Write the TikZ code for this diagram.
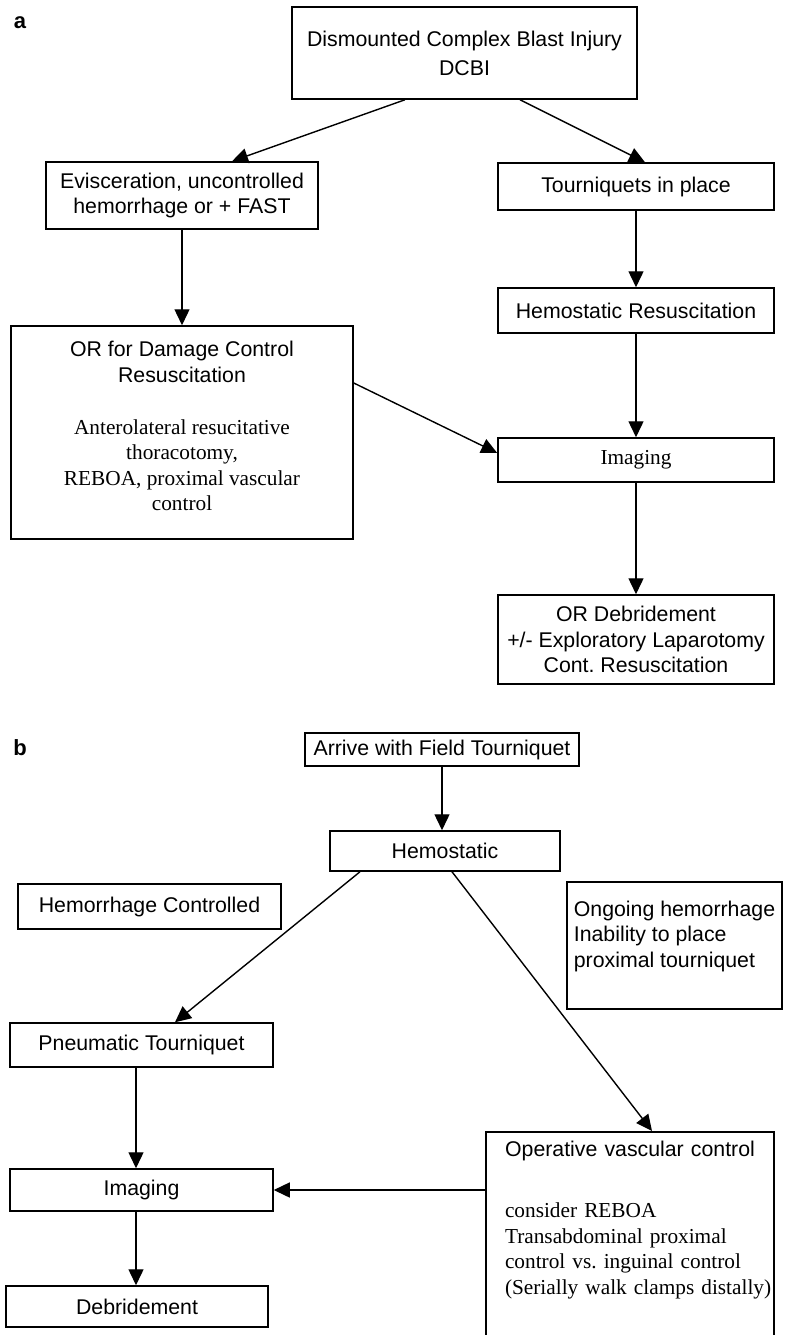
\documentclass[tikz,border=0pt]{standalone}
\usepackage{fontspec}
\setmainfont{Liberation Sans}
\newfontfamily\serifbody{Liberation Serif}
\usetikzlibrary{positioning, arrows.meta}
\frenchspacing

\begin{document}
\begin{tikzpicture}[x=1pt, y=-1pt, every node/.style={font=\fontsize{21.3}{25.5}\selectfont},
  box/.style={draw, line width=1.5pt, align=center, inner sep=0pt},
  arrow/.style={-{Triangle[length=16pt, width=15pt]}, line width=1.4pt},
  panel/.style={font=\fontsize{22}{26}\selectfont\bfseries}]
\useasboundingbox (0,0) rectangle (784,1335);

% Panel a -- blast injury pathway
\node[panel] (pa) at (20,23) {a};
\node[box, minimum width=345pt, minimum height=92pt] (dcbi) at (464.5,53) {Dismounted Complex Blast Injury\\[3.5pt]DCBI};
\node[box, minimum width=272pt, minimum height=67pt] (evis) at (182,195.5) {Evisceration, uncontrolled\\hemorrhage or + FAST};
\node[box, minimum width=276pt, minimum height=47pt] (tq) at (636,186.5) {Tourniquets in place};
\node[box, minimum width=342pt, minimum height=213pt] (ordc) at (182,432.5) {OR for Damage Control\\Resuscitation\\[26.5pt]\serifbody Anterolateral resucitative\\\serifbody thoracotomy,\\\serifbody REBOA, proximal vascular\\\serifbody control\\[-13pt]\mbox{}};
\node[box, minimum width=276pt, minimum height=45pt] (hres) at (636,310.5) {Hemostatic Resuscitation};
\node[box, minimum width=276pt, minimum height=44pt] (imga) at (636,460) {\serifbody Imaging};
\node[box, minimum width=276pt, minimum height=89pt] (ordeb) at (636,639.5) {OR Debridement\\+/- Exploratory Laparotomy\\Cont. Resuscitation};

% Panel b -- extremity hemorrhage pathway
\node[panel] (pb) at (20,748) {b};
\node[box, minimum width=274pt, minimum height=33pt] (arrive) at (442,749.5) {Arrive with Field Tourniquet};
\node[box, minimum width=230pt, minimum height=40pt] (hemo) at (445,851) {Hemostatic};
\node[box, minimum width=263pt, minimum height=45pt] (hctl) at (149.5,906.5) {Hemorrhage Controlled};
\node[box, align=left, minimum width=215pt, minimum height=127pt] (ongo) at (674.5,945.5) {Ongoing hemorrhage\\Inability to place\\proximal tourniquet\\[-3pt]\mbox{}};
\node[box, minimum width=263pt, minimum height=44pt] (pneu) at (141.5,1045) {Pneumatic Tourniquet};
\node[box, anchor=north, text width=284pt, inner xsep=2pt, inner ysep=9.5pt] (ovc) at (630,1131) {{Operative vascular control\par}\vspace{35.5pt}{\raggedright\leftskip=17pt\serifbody consider REBOA\\Transabdominal proximal\\control vs. inguinal control\\\mbox{(Serially walk clamps distally)}\par}\vspace{60pt}\null};
\node[box, minimum width=263pt, minimum height=42pt] (imgb) at (141.5,1190) {Imaging};
\node[box, minimum width=262pt, minimum height=41pt] (debr) at (137,1306.5) {Debridement};

% Arrows in panel a
\draw[arrow] ([xshift=-59.5pt]dcbi.south) -- ([xshift=50pt]evis.north);
\draw[arrow] ([xshift=55.5pt]dcbi.south) -- ([xshift=9pt]tq.north);
\draw[arrow] (evis.south) -- (ordc.north);
\draw[arrow] (tq.south) -- (hres.north);
\draw[arrow] (hres.south) -- (imga.north);
\draw[arrow] ([yshift=49.5pt]ordc.east) -- ([yshift=7pt]imga.west);
\draw[arrow] (imga.south) -- (ordeb.north);

% Arrows in panel b
\draw[arrow] (arrive.south) -- (arrive.south |- hemo.north);
\draw[arrow] ([xshift=-85pt]hemo.south) -- ([xshift=33.5pt]pneu.north);
\draw[arrow] ([xshift=7pt]hemo.south) -- ([xshift=22pt]ovc.north);
\draw[arrow] ([xshift=-5.5pt]pneu.south) -- ([xshift=-5.5pt]imgb.north);
\draw[arrow] ([xshift=-5.5pt]imgb.south) -- ([xshift=-1pt]debr.north);
\draw[arrow] (imgb.east -| ovc.west) -- (imgb.east);
\end{tikzpicture}
\end{document}
